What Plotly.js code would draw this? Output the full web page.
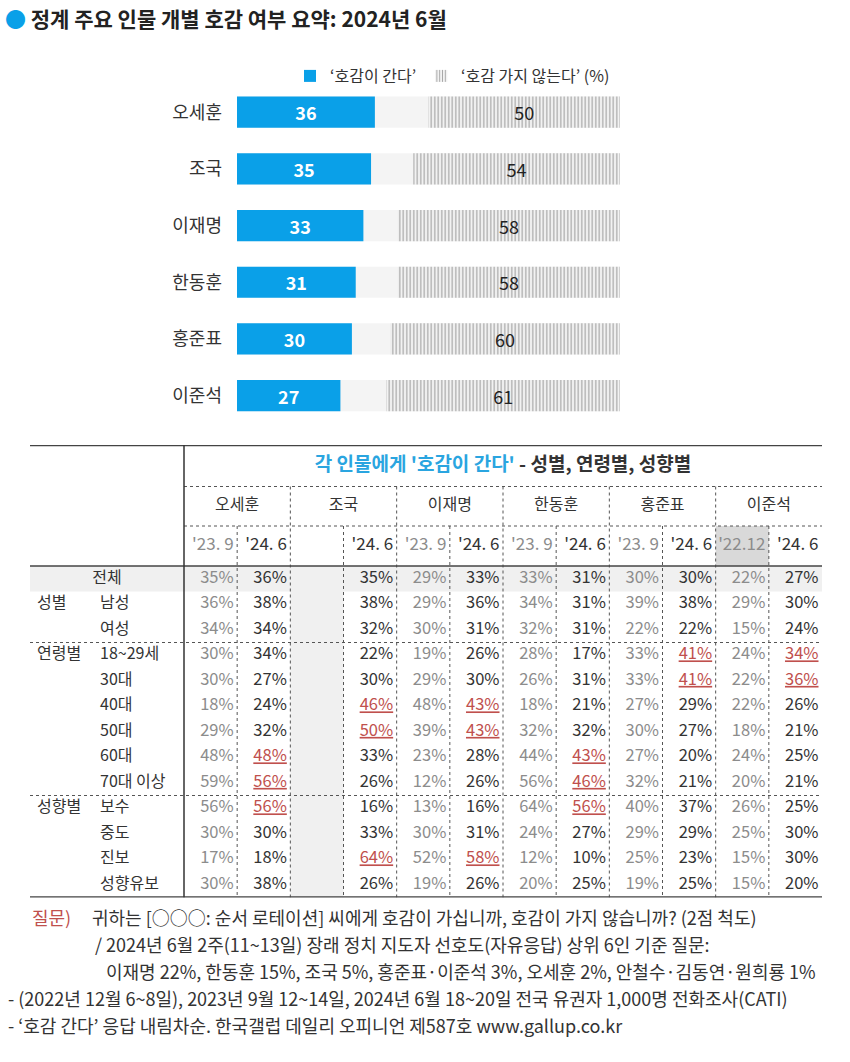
<!DOCTYPE html>
<html><head><meta charset="utf-8">
<script src="https://cdn.plot.ly/plotly-3.0.1.min.js"></script>
<style>html,body{margin:0;padding:0;background:#fff}</style>
</head><body><div id="chart" style="width:850px;height:1062px"></div>
<script>
const FONT = '"Noto Sans CJK KR", "Noto Sans", sans-serif';

// ---------- top bar chart data ----------
const people = ['오세훈','조국','이재명','한동훈','홍준표','이준석'];
const favorable = [36,35,33,31,30,27];
const unfavorable = [50,54,58,58,60,61];
const scaleMax = 100;
const legendFav = '‘호감이 간다’';
const legendUnfav = '‘호감 가지 않는다’ (%)';

// ---------- table data ----------
const rowLabels = ['전체','남성','여성','18~29세','30대','40대','50대','60대','70대 이상','보수','중도','진보','성향유보'];
const groupLabels = ['성별','연령별','성향별'];
const groupStartRows = ['남성','18~29세','보수'];
const periodLabels = ["'23. 9","'24. 6","","'24. 6","'23. 9","'24. 6","'23. 9","'24. 6","'23. 9","'24. 6","'22.12","'24. 6"];
const oh2309   = [35,36,34,30,30,18,29,48,59,56,30,17,30];
const oh2406   = [36,38,34,34,27,24,32,48,56,56,30,18,38];
const cho2309  = [];
const cho2406  = [35,38,32,22,30,46,50,33,26,16,33,64,26];
const lee2309  = [29,29,30,19,29,48,39,23,12,13,30,52,19];
const lee2406  = [33,36,31,26,30,43,43,28,26,16,31,58,26];
const han2309  = [33,34,32,28,26,18,32,44,56,64,24,12,20];
const han2406  = [31,31,31,17,31,21,32,43,46,56,27,10,25];
const hong2309 = [30,39,22,33,33,27,30,27,32,40,29,25,19];
const hong2406 = [30,38,22,41,41,29,27,20,21,37,29,23,25];
const leejs2212 = [22,29,15,24,22,22,18,24,20,26,25,15,15];
const leejs2406 = [27,30,24,34,36,26,21,25,21,25,30,30,20];
const oh2406Marked = ['60대','70대 이상','보수'];
const cho2406Marked = ['40대','50대','진보'];
const lee2406Marked = ['40대','50대','진보'];
const han2406Marked = ['60대','70대 이상','보수'];
const hong2406Marked = ['18~29세','30대'];
const leejs2406Marked = ['18~29세','30대'];
const tableTitleBlue = "각 인물에게 '호감이 간다'";
const tableTitleRest = " - 성별, 연령별, 성향별";

const notes = [
  "귀하는 [○○○: 순서 로테이션] 씨에게 호감이 가십니까, 호감이 가지 않습니까? (2점 척도)",
  "/ 2024년 6월 2주(11~13일) 장래 정치 지도자 선호도(자유응답) 상위 6인 기준 질문:",
  "이재명 22%, 한동훈 15%, 조국 5%, 홍준표·이준석 3%, 오세훈 2%, 안철수·김동연·원희룡 1%",
  "- (2022년 12월 6~8일), 2023년 9월 12~14일, 2024년 6월 18~20일 전국 유권자 1,000명 전화조사(CATI)",
  "- ‘호감 간다’ 응답 내림차순. 한국갤럽 데일리 오피니언 제587호 www.gallup.co.kr"
];

// ---------- geometry helpers ----------
const W = 850, H = 1062;
const PX = v => v / W;
const PY = v => 1 - v / H;

const columnSeries = [oh2309, oh2406, cho2309, cho2406, lee2309, lee2406, han2309, han2406, hong2309, hong2406, leejs2212, leejs2406];
const columnMarked = [[], oh2406Marked, [], cho2406Marked, [], lee2406Marked, [], han2406Marked, [], hong2406Marked, [], leejs2406Marked];

const T = {left:30, right:822, labelRight:184, top:445, headEnd:566, rowH:25.5, nameTop:486.5, dateTop:526};
const nCols = periodLabels.length, nRows = rowLabels.length;
const colW = (T.right - T.labelRight) / nCols;
const toX = px => -0.5 + (px - T.labelRight) / colW;
const toY = px => -0.5 + (px - T.headEnd) / T.rowH;
const xL = toX(T.left), xR = nCols - 0.5;
const yTop = toY(T.top), yBot = nRows - 0.5;
const tableBottomPx = T.headEnd + nRows * T.rowH;

const BLUE = '#0aa0e8';
const DARK = '#333333';
const GRAY = '#8c8c8c';
const RED = '#c0504d';

// ---------- traces ----------
const traces = [];
traces.push({
  type:'bar', orientation:'h', y:people, x:people.map(() => scaleMax), width:0.55,
  marker:{color:'#f4f4f4'}, showlegend:false, hoverinfo:'skip'
});
traces.push({
  type:'bar', orientation:'h', y:people, x:favorable, width:0.55, name:legendFav,
  marker:{color:BLUE}, text:favorable.map(String), textposition:'inside', insidetextanchor:'middle', textangle:0,
  constraintext:'none',
  textfont:{color:'#ffffff', size:18, family:FONT, weight:'bold'}, hoverinfo:'skip'
});
traces.push({
  type:'bar', orientation:'h', y:people, x:unfavorable, base:unfavorable.map(v => scaleMax - v), width:0.55, name:legendUnfav,
  marker:{color:'#f2f2f2', pattern:{shape:'|', fgcolor:'#a8a8a8', bgcolor:'#f2f2f2', size:3.5, solidity:0.35}},
  text:unfavorable.map(String), textposition:'inside', insidetextanchor:'middle', textangle:0, constraintext:'none',
  textfont:{color:'#222222', size:18, family:FONT}, hoverinfo:'skip'
});

// table: data cells
const cx = [], cy = [], ct = [], cc = [];
columnSeries.forEach((series, j) => {
  const latest = periodLabels[j].startsWith("'24");
  series.forEach((v, i) => {
    const marked = columnMarked[j].includes(rowLabels[i]);
    cx.push(j + 0.5 - 3.5 / colW);
    cy.push(i);
    ct.push(marked ? '<u>' + v + '%</u>' : v + '%');
    cc.push(marked ? RED : (latest ? DARK : GRAY));
  });
});
traces.push({
  type:'scatter', mode:'text', xaxis:'x2', yaxis:'y2', x:cx, y:cy, text:ct,
  textposition:'middle left', textfont:{family:FONT, size:16.5, color:cc},
  showlegend:false, hoverinfo:'skip', cliponaxis:false
});
// header: periods
const px_ = [], py_ = [], pt_ = [], pc_ = [];
periodLabels.forEach((p, j) => {
  if (!p) return;
  px_.push(j + 0.5 - 3.5 / colW); py_.push(toY((T.dateTop + T.headEnd) / 2)); pt_.push(p);
  pc_.push(p.startsWith("'24") ? DARK : GRAY);
});
traces.push({
  type:'scatter', mode:'text', xaxis:'x2', yaxis:'y2', x:px_, y:py_, text:pt_,
  textposition:'middle left', textfont:{family:FONT, size:17, color:pc_},
  showlegend:false, hoverinfo:'skip', cliponaxis:false
});
// header: people names
traces.push({
  type:'scatter', mode:'text', xaxis:'x2', yaxis:'y2',
  x:people.map((_, k) => 2 * k + 0.5), y:people.map(() => toY((T.nameTop + T.dateTop) / 2)), text:people,
  textposition:'middle center', textfont:{family:FONT, size:16, color:DARK},
  showlegend:false, hoverinfo:'skip', cliponaxis:false
});
// header: table title
traces.push({
  type:'scatter', mode:'text', xaxis:'x2', yaxis:'y2',
  x:[(nCols - 1) / 2], y:[toY((T.top + T.nameTop) / 2)],
  text:["<span style='color:#2aa5e0'>" + tableTitleBlue + "</span>" + tableTitleRest],
  textposition:'middle center', textfont:{family:FONT, size:19, color:DARK, weight:'bold'},
  showlegend:false, hoverinfo:'skip', cliponaxis:false
});
// row labels
traces.push({
  type:'scatter', mode:'text', xaxis:'x2', yaxis:'y2',
  x:rowLabels.slice(1).map(() => toX(100)), y:rowLabels.slice(1).map((_, i) => i + 1), text:rowLabels.slice(1),
  textposition:'middle right', textfont:{family:FONT, size:16, color:DARK},
  showlegend:false, hoverinfo:'skip', cliponaxis:false
});
traces.push({
  type:'scatter', mode:'text', xaxis:'x2', yaxis:'y2',
  x:[(xL + -0.5) / 2], y:[0], text:[rowLabels[0]],
  textposition:'middle center', textfont:{family:FONT, size:16, color:DARK},
  showlegend:false, hoverinfo:'skip', cliponaxis:false
});
traces.push({
  type:'scatter', mode:'text', xaxis:'x2', yaxis:'y2',
  x:groupLabels.map(() => toX(37)), y:groupStartRows.map(r => rowLabels.indexOf(r)), text:groupLabels,
  textposition:'middle right', textfont:{family:FONT, size:16, color:DARK},
  showlegend:false, hoverinfo:'skip', cliponaxis:false
});

// ---------- shapes ----------
const shapes = [];
function ln(x0, y0, x1, y1, color, width, dash) {
  shapes.push({type:'line', xref:'x2', yref:'y2', x0, y0, x1, y1, line:{color, width, dash:dash || 'solid'}, layer:'above'});
}
function rect(x0, y0, x1, y1, color) {
  shapes.push({type:'rect', xref:'x2', yref:'y2', x0, y0, x1, y1, fillcolor:color, line:{width:0}, layer:'below'});
}
rect(xL, -0.5, xR, 0.5, '#f0f0f0');
const emptyCol = periodLabels.indexOf('');
rect(emptyCol - 0.5, -0.5, emptyCol + 0.5, yBot, '#f0f0f0');
const oldLee = periodLabels.indexOf("'22.12");
rect(oldLee - 0.5, toY(T.dateTop), oldLee + 0.5, -0.5, '#d9d9d9');

const yName = toY(T.nameTop), yDate = toY(T.dateTop);
ln(-0.5, yName, xR, yName, '#555', 1, 'dot');
ln(-0.5, yDate, xR, yDate, '#555', 1, 'dot');
groupStartRows.slice(1).forEach(r => { const y = rowLabels.indexOf(r) - 0.5; ln(xL, y, xR, y, '#555', 1, 'dot'); });
for (let k = 1; k < people.length; k++) ln(2 * k - 0.5, yName, 2 * k - 0.5, yBot, '#555', 1, 'dot');
for (let k = 0; k < people.length; k++) ln(2 * k + 0.5, yDate, 2 * k + 0.5, yBot, '#555', 1, 'dot');
ln(xL, yTop, xR, yTop, '#444', 2.5);
ln(xL, -0.5, xR, -0.5, '#444', 1.5);
ln(xL, yBot, xR, yBot, '#444', 2.5);
ln(-0.5, yTop, -0.5, yBot, '#333', 1.5);

// ---------- annotations (notes) ----------
const annotations = [];
const noteY = [917, 944, 971, 998, 1025];
const noteX = [90, 93, 104, 6, 6];
annotations.push({xref:'paper', yref:'paper', x:PX(30), y:PY(noteY[0]), xanchor:'left', yanchor:'middle', showarrow:false,
  text:'질문)', font:{family:FONT, size:18, color:RED}});
notes.forEach((t, i) => annotations.push({xref:'paper', yref:'paper', x:PX(noteX[i]), y:PY(noteY[i]), xanchor:'left', yanchor:'middle',
  showarrow:false, text:t, font:{family:FONT, size:18, color:DARK}}));

const rowSpan = 56.68;
const layout = {
  width:W, height:H, margin:{l:0, r:0, t:0, b:0}, paper_bgcolor:'#ffffff', plot_bgcolor:'rgba(0,0,0,0)',
  font:{family:FONT, color:DARK},
  title:{text:"<span style='color:" + BLUE + "'>●</span> 정계 주요 인물 개별 호감 여부 요약: 2024년 6월",
    x:PX(5), xanchor:'left', y:PY(20), yanchor:'middle', font:{family:FONT, size:21, color:'#222', weight:'bold'}},
  barmode:'overlay',
  xaxis:{domain:[PX(237), PX(620)], range:[0, scaleMax], visible:false, fixedrange:true},
  yaxis:{domain:[PY(112.2 + 5 * rowSpan + rowSpan / 2), PY(112.2 - rowSpan / 2)], type:'category', range:[5.5, -0.5],
    showgrid:false, zeroline:false, showline:false, ticks:'', ticklabelstandoff:14,
    tickfont:{family:FONT, size:18, color:DARK}, fixedrange:true},
  xaxis2:{domain:[PX(T.left), PX(T.right)], range:[xL, xR], visible:false, anchor:'y2', fixedrange:true},
  yaxis2:{domain:[PY(tableBottomPx), PY(T.top)], range:[yBot, yTop], visible:false, anchor:'x2', fixedrange:true},
  showlegend:true,
  legend:{orientation:'h', x:PX(290), y:PY(59), xanchor:'left', yanchor:'top', font:{family:FONT, size:16, color:DARK},
    bgcolor:'rgba(0,0,0,0)', itemclick:false, itemdoubleclick:false, traceorder:'normal'},
  shapes, annotations
};
Plotly.newPlot('chart', traces, layout, {displayModeBar:false, staticPlot:true});
</script></body></html>
